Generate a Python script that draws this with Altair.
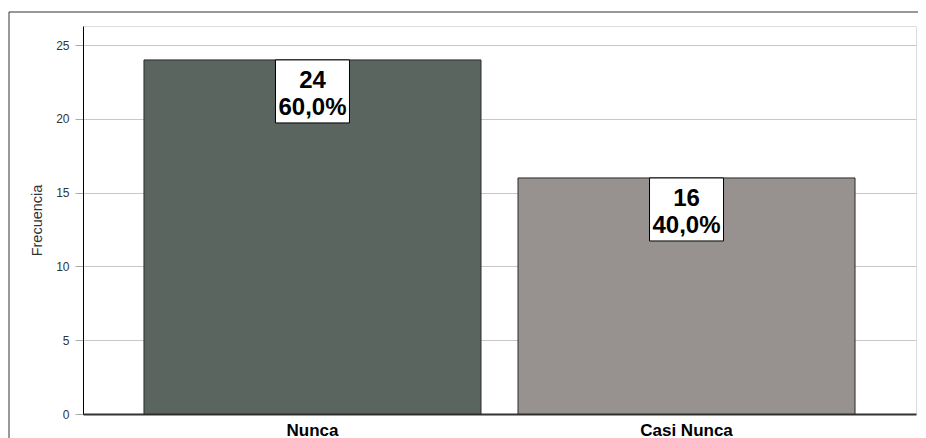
import altair as alt
import pandas as pd

categories = ["Nunca", "Casi Nunca"]
counts = [24, 16]
percents = ["60,0%", "40,0%"]
bar_colors = ["#5a6560", "#97918f"]
y_ticks = [0, 5, 10, 15, 20, 25]

df = pd.DataFrame({
    "cat": categories,
    "count": counts,
    "pct": percents,
})
df["label"] = [f"{c}\n{p}" for c, p in zip(counts, percents)]

x_enc = alt.X(
    "cat:N",
    sort=categories,
    title=None,
    scale=alt.Scale(paddingInner=0.099, paddingOuter=0.163),
    axis=alt.Axis(
        labelAngle=0,
        labelFont="Liberation Sans",
        labelFontSize=17,
        labelFontWeight="bold",
        labelColor="#000000",
        labelPadding=8,
        ticks=False,
        domain=True,
        domainColor="#333333",
        domainWidth=2,
        grid=False,
    ),
)

y_scale = alt.Scale(domain=[0, 26.3], nice=False)

bars = alt.Chart(df).mark_bar(stroke="#2b2b2b", strokeWidth=1).encode(
    x=x_enc,
    y=alt.Y(
        "count:Q",
        scale=y_scale,
        title="Frecuencia",
        axis=alt.Axis(
            values=y_ticks,
            labelFont="Liberation Sans",
            labelFontSize=12,
            labelColor="#333333",
            labelPadding=6,
            tickSize=8,
            tickColor="#aaaaaa",
            domain=True,
            domainColor="#000000",
            gridColor="#c8c8c8",
            gridWidth=1,
            titleFont="Liberation Sans",
            titleFontSize=14.5,
            titleFontWeight="normal",
            titleColor="#333333",
            titlePadding=11,
        ),
    ),
    color=alt.Color("cat:N", scale=alt.Scale(domain=categories, range=bar_colors), legend=None),
)

boxes = alt.Chart(df).mark_bar(
    width=74, fill="white", stroke="#000000", strokeWidth=1, y2Offset=63
).encode(
    x=alt.X("cat:N", sort=categories),
    y=alt.Y("count:Q", scale=y_scale),
    y2="count:Q",
)

texts = alt.Chart(df).mark_text(
    font="Liberation Sans",
    fontSize=24,
    fontWeight="bold",
    color="#000000",
    baseline="top",
    align="center",
    lineBreak="\n",
    lineHeight=27,
    dy=9,
).encode(
    x=alt.X("cat:N", sort=categories),
    y=alt.Y("count:Q", scale=y_scale),
    text="label:N",
)

frame_src = alt.Data(values=[{"k": 1}])
frame_v = alt.Chart(frame_src).mark_rule(color="#333333", strokeWidth=1).encode(
    x=alt.value(-74), y=alt.value(-14), y2=alt.value(420)
)
frame_h = alt.Chart(frame_src).mark_rule(color="#333333", strokeWidth=1).encode(
    x=alt.value(-74), x2=alt.value(850), y=alt.value(-14)
)

chart = alt.layer(bars, boxes, texts, frame_v, frame_h).properties(
    width=833,
    height=388,
    autosize=alt.AutoSizeParams(type="none"),
    padding={"left": 75, "top": 18, "right": 2, "bottom": 24},
).configure_view(
    stroke="#444444", strokeWidth=1
).configure(background="white")

chart.save("out.html", embed_options={"renderer": "svg", "actions": False})
